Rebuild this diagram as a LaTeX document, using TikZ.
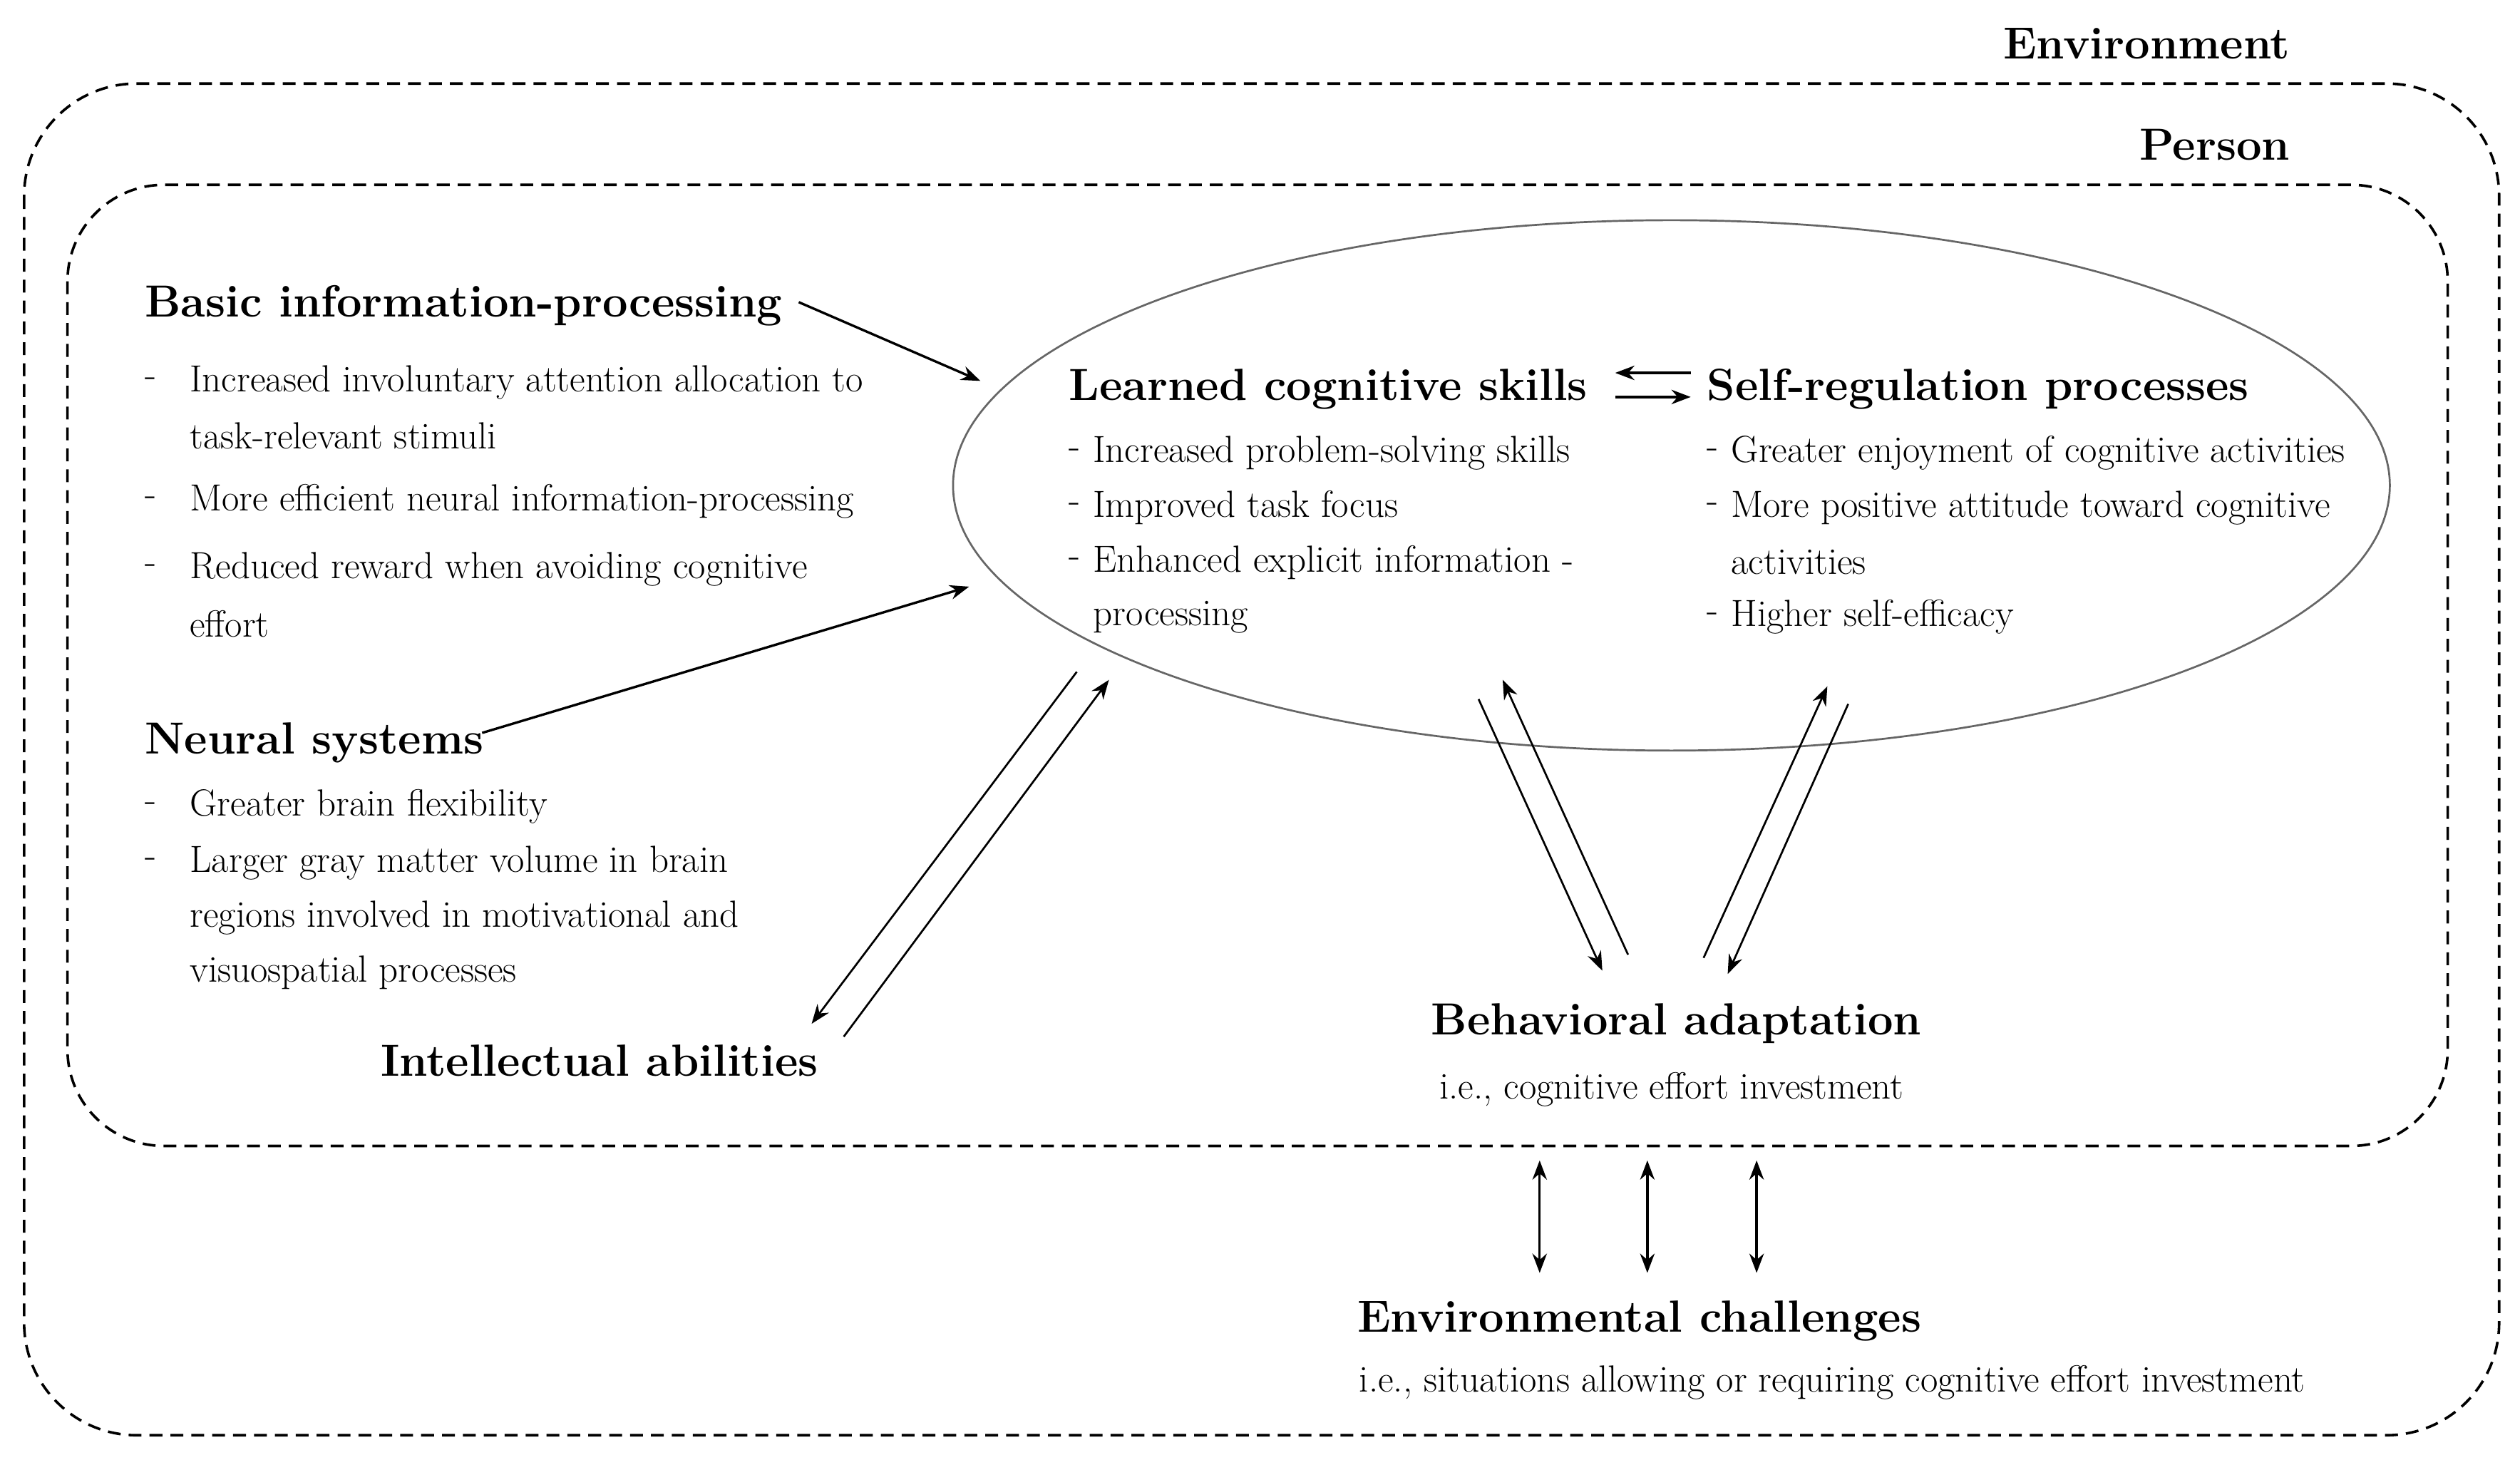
\documentclass[tikz,border=0pt]{standalone}
\usetikzlibrary{arrows.meta}
\begin{document}
\begin{tikzpicture}[x=1pt,y=-1pt,
  title/.style={font=\fontsize{28}{32}\selectfont\bfseries, inner sep=0pt},
  sub/.style={font=\fontsize{23.5}{26}\selectfont, inner sep=0pt},
  dash box/.style={dash pattern=on 8pt off 5pt, line width=1.6pt, rounded corners=#1},
  arr/.style={-{Stealth[length=12pt,width=9pt]}, line width=1.5pt},
  arrt/.style={-{Stealth[length=12pt,width=9pt]}, line width=1.2pt},
  dar/.style={{Stealth[length=12pt,width=9pt]}-{Stealth[length=12pt,width=9pt]}, line width=1.5pt}]
\useasboundingbox (0,0) rectangle (1568,908);
\draw[dash box=70pt] (15,52) rectangle (1555,893);
\draw[dash box=60pt] (42,115) rectangle (1523,713);
\node[title, anchor=east] (env) at (1425,27) {Environment};
\node[title] (per) at (1378,90) {Person};
\draw[gray!80!black, line width=1.2pt] (1040,302) ellipse (447pt and 165pt);
\node[title, anchor=west] (bip) at (90,190) {Basic information-processing};
\node[title, anchor=west] (ns) at (90,462) {Neural systems};
\node[title] (ia) at (373,660) {Intellectual abilities};
\node[title, anchor=west] (lcs) at (665,242) {Learned cognitive skills};
\node[title, anchor=west] (srp) at (1062,242) {Self-regulation processes};
\node[title] (ba) at (1043,637) {Behavioral adaptation};
\node[sub] (bas) at (1040,678) {i.e., cognitive effort investment};
\node[title] (ec) at (1020,822) {Environmental challenges};
\node[sub] (ecs) at (1140,860) {i.e., situations allowing or requiring cognitive effort investment};
\def\bul#1#2#3{\node[sub,anchor=west] at (#1,#2) {-}; \node[sub,anchor=west] at (#1+28,#2) {#3};}
\def\bulb#1#2#3{\node[sub,anchor=west] at (#1,#2) {-}; \node[sub,anchor=west] at (#1+15,#2) {#3};}
\bul{90}{238}{Increased involuntary attention allocation to}
\node[sub,anchor=west] at (118,271) {task-relevant stimuli};
\bul{90}{312}{More efficient neural information-processing}
\bul{90}{354}{Reduced reward when avoiding cognitive}
\node[sub,anchor=west] at (118,388) {effort};
\bul{90}{502}{Greater brain flexibility}
\bul{90}{537}{Larger gray matter volume in brain}
\node[sub,anchor=west] at (118,571) {regions involved in motivational and};
\node[sub,anchor=west] at (118,605) {visuospatial processes};
\bulb{665}{282}{Increased problem-solving skills}
\bulb{665}{316}{Improved task focus}
\bulb{665}{350}{Enhanced explicit information -}
\node[sub,anchor=west] at (680,384) {processing};
\bulb{1062}{282}{Greater enjoyment of cognitive activities}
\bulb{1062}{316}{More positive attitude toward cognitive}
\node[sub,anchor=west] at (1077,350) {activities};
\bulb{1062}{384}{Higher self-efficacy};
\coordinate (a1) at (497,188); \coordinate (a2) at (610,237);
\draw[arr] (a1) -- (a2);
\coordinate (b1) at (300,456); \coordinate (b2) at (603,365);
\draw[arr] (b1) -- (b2);
\coordinate (l1) at (1052,232); \coordinate (l2) at (1005,232);
\draw[arr] (l1) -- (l2);
\coordinate (r1) at (1005,247); \coordinate (r2) at (1052,247);
\draw[arr] (r1) -- (r2);
\coordinate (i1) at (670,418); \coordinate (i2) at (505,637);
\coordinate (i3) at (525,645); \coordinate (i4) at (690,423);
\draw[arrt] (i1) -- (i2); \draw[arrt] (i3) -- (i4);
\coordinate (p1) at (920,435); \coordinate (p2) at (997,604);
\coordinate (p3) at (1013,594); \coordinate (p4) at (935,423);
\draw[arrt] (p1) -- (p2); \draw[arrt] (p3) -- (p4);
\coordinate (q1) at (1150,438); \coordinate (q2) at (1075,606);
\coordinate (q3) at (1060,596); \coordinate (q4) at (1137,427);
\draw[arrt] (q1) -- (q2); \draw[arrt] (q3) -- (q4);
\foreach \x [count=\i] in {958,1025,1093}{
  \coordinate (v\i a) at (\x,722); \coordinate (v\i b) at (\x,792);
  \draw[dar] (v\i a) -- (v\i b);}
\end{tikzpicture}
\end{document}
